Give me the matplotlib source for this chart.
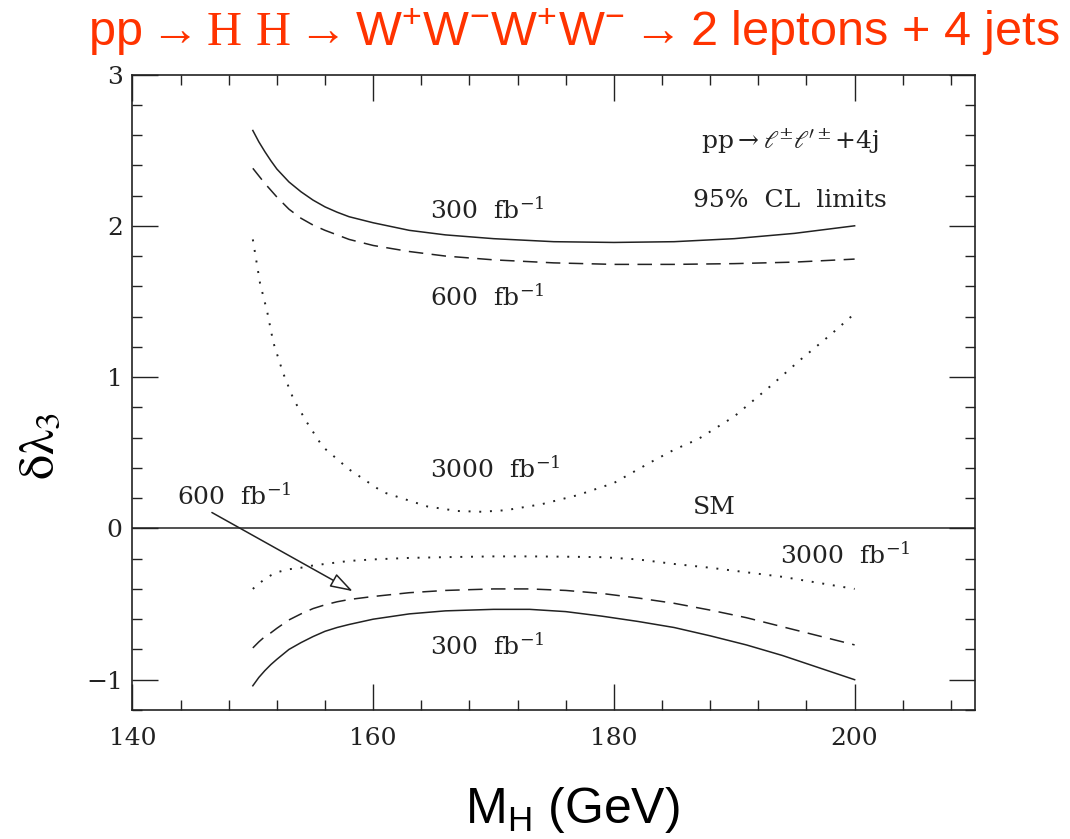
import numpy as np
import matplotlib
matplotlib.use("Agg")
import matplotlib.pyplot as plt

plt.rcParams['mathtext.fontset'] = 'custom'
plt.rcParams['mathtext.rm'] = 'Liberation Sans'
plt.rcParams['mathtext.it'] = 'Liberation Sans'
plt.rcParams['mathtext.bf'] = 'Liberation Sans'
plt.rcParams['mathtext.sf'] = 'Liberation Sans'
plt.rcParams['mathtext.cal'] = 'Liberation Serif'

# upper limits (delta lambda_3 > 0)
mh_up = [150, 150.5, 151, 151.5, 152, 153, 154, 155, 156, 157, 158, 160, 163, 166, 170, 175, 180, 185, 190, 195, 200]
up_300 = [2.63, 2.555, 2.49, 2.43, 2.375, 2.29, 2.225, 2.17, 2.125, 2.09, 2.06, 2.02, 1.97, 1.94, 1.915, 1.895, 1.89, 1.895, 1.915, 1.95, 2.00]
up_600 = [2.38, 2.33, 2.28, 2.235, 2.19, 2.11, 2.05, 2.005, 1.97, 1.94, 1.91, 1.87, 1.83, 1.80, 1.775, 1.755, 1.745, 1.745, 1.75, 1.76, 1.78]

mh_3000 = [150, 150.6, 151.2, 151.7, 152.5, 153.4, 154.5, 155.8, 158, 160.8, 164.5, 167, 169, 171, 174, 177, 180, 183, 185, 187, 190, 193, 195.5, 198, 200]
up_3000 = [1.91, 1.62, 1.43, 1.23, 1.03, 0.85, 0.70, 0.54, 0.39, 0.24, 0.145, 0.115, 0.11, 0.12, 0.16, 0.22, 0.30, 0.435, 0.52, 0.59, 0.74, 0.94, 1.115, 1.28, 1.42]

# lower limits (delta lambda_3 < 0)
mh_lo = [150, 150.5, 151, 151.5, 152, 153, 154, 155, 156, 157, 158, 160, 163, 166, 170, 173, 176, 179, 182, 185, 188, 191, 194, 197, 200]
lo_300 = [-1.04, -0.985, -0.94, -0.90, -0.865, -0.80, -0.755, -0.715, -0.68, -0.655, -0.635, -0.60, -0.565, -0.545, -0.535, -0.535, -0.55, -0.58, -0.615, -0.655, -0.71, -0.77, -0.84, -0.92, -1.00]
lo_600 = [-0.79, -0.75, -0.715, -0.69, -0.66, -0.605, -0.565, -0.53, -0.505, -0.485, -0.47, -0.45, -0.425, -0.41, -0.40, -0.40, -0.41, -0.43, -0.46, -0.495, -0.54, -0.59, -0.65, -0.71, -0.77]
lo_3000 = [-0.40, -0.365, -0.335, -0.31, -0.29, -0.27, -0.26, -0.245, -0.235, -0.225, -0.215, -0.205, -0.195, -0.19, -0.185, -0.185, -0.187, -0.19, -0.205, -0.235, -0.26, -0.29, -0.32, -0.36, -0.40]

ink = '#222222'
serif = 'DejaVu Serif'

fig = plt.figure(figsize=(10.7, 8.39), dpi=100)
ax = fig.add_axes([0.1238, 0.1538, 0.7874, 0.7574])

dash = (0, (9.5, 5.5))
dots = (0, (1, 4.5))
ax.plot(mh_up, up_300, color=ink, lw=1.1)
ax.plot(mh_up, up_600, color=ink, lw=1.1, ls=dash)
ax.plot(mh_3000, up_3000, color=ink, lw=1.4, ls=dots)
ax.plot(mh_lo, lo_300, color=ink, lw=1.1)
ax.plot(mh_lo, lo_600, color=ink, lw=1.1, ls=dash)
ax.plot(mh_lo, lo_3000, color=ink, lw=1.4, ls=dots)
ax.axhline(0, color=ink, lw=1.1)

ax.set_xlim(140, 210)
ax.set_ylim(-1.2, 3)
ax.set_xticks([140, 160, 180, 200])
ax.set_xticks(np.arange(140, 211, 4), minor=True)
ax.set_yticks([-1, 0, 1, 2, 3])
ax.set_yticks(np.arange(-1.2, 3.01, 0.2), minor=True)
ax.set_yticklabels(['\u22121', '0', '1', '2', '3'])
ax.tick_params(which='both', direction='in', top=True, right=True, color=ink, width=1.0)
ax.tick_params(which='major', length=19, labelsize=18)
ax.tick_params(which='minor', length=7)
ax.tick_params(axis='x', pad=12)
ax.tick_params(axis='y', pad=7)
for lab in ax.get_xticklabels() + ax.get_yticklabels():
    lab.set_family(serif)
    lab.set_color(ink)
for s in ax.spines.values():
    s.set_linewidth(1.2)
    s.set_color(ink)

fb = r' fb$^{-1}$'
kw = dict(family=serif, fontsize=18, color=ink, math_fontfamily='dejavuserif', va='center')
ax.text(164.7, 2.1, '300 ' + fb, **kw)
ax.text(164.7, 1.53, '600 ' + fb, **kw)
ax.text(164.7, 0.39, '3000 ' + fb, **kw)
ax.text(143.7, 0.21, '600 ' + fb, **kw)
ax.text(193.8, -0.18, '3000 ' + fb, **kw)
ax.text(164.7, -0.78, '300 ' + fb, **kw)
ax.text(186.6, 0.14, 'SM', **kw)
ax.text(194.6, 2.56, r'pp$\rightarrow\ell^{\pm}\ell^{\prime\pm}$+4j', ha='center', **kw)
ax.text(194.6, 2.17, '95%  CL  limits', ha='center', **kw)

ax.annotate('', xy=(158.3, -0.415), xytext=(146.6, 0.105),
            arrowprops=dict(arrowstyle='-|>,head_length=1.4,head_width=0.45',
                            fc='white', ec=ink, lw=1.1, shrinkA=0, shrinkB=0))

fig.text(0.536, 0.962,
         r'$\mathrm{pp} \rightarrow \mathcal{H}\ \mathcal{H} \rightarrow \mathrm{W^{+}W^{-}W^{+}W^{-}} \rightarrow \mathrm{2\ leptons}$ + $\mathrm{4\ jets}$',
         ha='center', va='center', fontsize=35, color='#FF3300',
         family='Liberation Sans', math_fontfamily='custom')
fig.text(0.535, 0.035, r'M$_\mathrm{H}$ (GeV)', ha='center', va='center', fontsize=36,
         family='Liberation Sans', math_fontfamily='custom', color='black')
fig.text(0.039, 0.468, r'δλ$_3$', ha='center', va='center', fontsize=36,
         rotation=90, family='STIXGeneral', math_fontfamily='stix', color='black')

fig.savefig('out.png', dpi=100)
